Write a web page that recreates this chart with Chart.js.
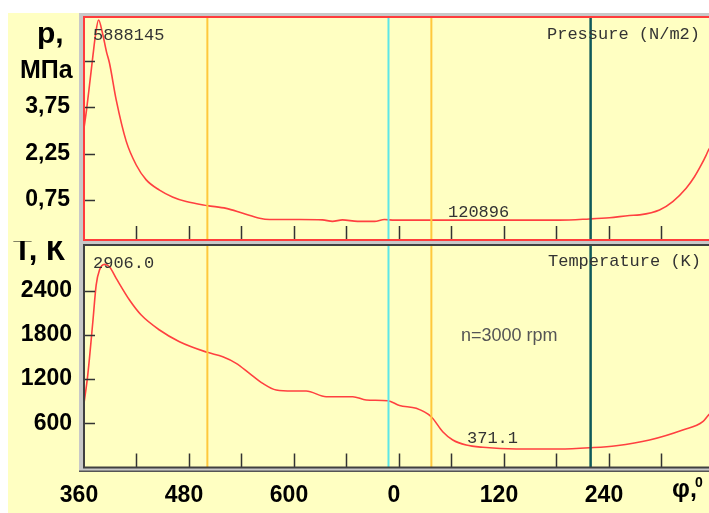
<!DOCTYPE html>
<html>
<head>
<meta charset="utf-8">
<script src="https://cdn.jsdelivr.net/npm/chart.js@4.4.1/dist/chart.umd.min.js"></script>
<style>
  html, body { margin: 0; padding: 0; background: #fff; }
  #page { position: relative; width: 709px; height: 513px; overflow: hidden; }
  #bg { position: absolute; left: 8px; top: 13px; right: 0; bottom: 0; background: #ffffc2; }
  .box { position: absolute; left: 0; width: 709px; }
  #top-box { top: 0; height: 241px; }
  #bottom-box { top: 241px; height: 272px; }
</style>
</head>
<body>
<div id="page">
  <div id="bg"></div>
  <div class="box" id="top-box"><canvas id="pressure-chart"></canvas></div>
  <div class="box" id="bottom-box"><canvas id="temp-chart"></canvas></div>
</div>
<script>
// crank angle in degrees, 360..1080 window (labels wrap at 720 -> 0)
const pressureAngle = [360, 362.9, 366.3, 370.3, 373.1, 376.6, 381.1, 385.7, 389.1, 396.8, 408.2, 419.7, 431.1, 446.3, 461.1, 476.8, 500.8, 522.5, 541.5, 560.6, 572, 606.3, 632.6, 644, 655.4, 672.6, 692, 703.4, 714.9, 777.7, 903.4, 937.7, 960.6, 983.4, 994.9, 1017.7, 1032.9, 1048.2, 1057.7, 1065.4, 1071.1, 1073.7, 1080];
const pressureMPa = [3.07, 3.66, 4.46, 5.43, 6.07, 6.56, 6.14, 5.53, 5.17, 3.98, 2.65, 1.88, 1.40, 1.07, 0.85, 0.70, 0.57, 0.48, 0.32, 0.16, 0.12, 0.12, 0.11, 0.06, 0.11, 0.06, 0.06, 0.12, 0.10, 0.10, 0.10, 0.14, 0.18, 0.25, 0.27, 0.43, 0.70, 1.13, 1.50, 1.88, 2.20, 2.36, 2.62];

const tempAngle = [360, 364.3, 370.1, 373.9, 377.7, 383.4, 389.1, 396.8, 412, 425.4, 446.3, 469.1, 500.8, 518.6, 533.9, 549.1, 564.3, 579.7, 598.6, 613.9, 636.8, 667.2, 682.5, 707.2, 720.6, 739.7, 756.8, 770, 781.5, 796.8, 815.8, 853.9, 903.4, 939.7, 968.2, 1006.3, 1044.3, 1067.2, 1073.7, 1080];
const tempK = [871, 1255, 1978, 2476, 2680, 2757, 2725, 2567, 2273, 2069, 1866, 1707, 1563, 1503, 1414, 1278, 1142, 1052, 1038, 1038, 961, 961, 916, 906, 841, 803, 689, 486, 373, 305, 274, 251, 251, 269, 296, 373, 509, 621, 712, 780];

const xTickAngles = [360, 420, 480, 540, 600, 660, 720, 780, 840, 900, 960, 1020];
const pTicks = [0.75, 2.25, 3.75, 5.25];
const tTicks = [600, 1200, 1800, 2400];

// vertical marker lines (valve events, spark, cursor)
const markerAngles = [501, 708, 757, 939];
const markerKinds = ['valve', 'spark', 'valve', 'cursor'];

const xRange = [360, 1074.3];
const pRange = [-0.54, 6.655];
const tRange = [0, 3020];

const plotYellow = '#ffffc2';
const curveRed = '#ff4040';
const labelFont = '"Liberation Sans", Arial, sans-serif';
const monoFont = '17px "Liberation Mono", monospace';

const markerStyle = {
    valve: { color: '#ffc83c', width: 2 },
    spark: { color: '#5ce6e6', width: 2 },
    cursor: { color: '#0f5a5a', width: 2.5 }
};

const markerDatasets = (yMin, yMax) => markerAngles.map((a, i) => {
    const s = markerStyle[markerKinds[i]];
    return {
        data: [{ x: a, y: yMin }, { x: a, y: yMax }],
        borderColor: s.color,
        borderWidth: s.width,
        pointRadius: 0
    };
});

const panelDecor = {
    id: 'panelDecor',
    beforeDraw(chart, args, opts) {
        const { ctx, chartArea: a } = chart;
        ctx.save();
        ctx.fillStyle = '#c8c8c8';
        ctx.fillRect(opts.frame[0], opts.frame[1], opts.frame[2], opts.frame[3]);
        if (opts.frameEdge !== undefined) {
            ctx.fillStyle = '#555';
            ctx.fillRect(opts.frame[0], opts.frameEdge, opts.frame[2], 1.5);
        }
        ctx.fillStyle = plotYellow;
        ctx.fillRect(a.left, a.top, a.width, a.height);
        ctx.restore();
    },
    afterDraw(chart, args, opts) {
        const { ctx, chartArea: a, scales } = chart;
        ctx.save();
        // short tick marks inside the plot
        ctx.strokeStyle = '#333';
        ctx.lineWidth = 1.5;
        ctx.beginPath();
        xTickAngles.slice(1).forEach(v => {
            const px = Math.round(scales.x.getPixelForValue(v)) + 0.5;
            ctx.moveTo(px, a.bottom);
            ctx.lineTo(px, a.bottom - 14);
        });
        opts.yMarks.forEach(v => {
            const py = Math.round(scales.y.getPixelForValue(v)) + 0.5;
            ctx.moveTo(a.left, py);
            ctx.lineTo(a.left + 11, py);
        });
        ctx.stroke();

        ctx.strokeStyle = opts.border;
        ctx.lineWidth = 2;
        ctx.strokeRect(a.left, a.top, a.width + 5, a.height);

        ctx.textAlign = 'left';
        ctx.textBaseline = 'alphabetic';
        opts.texts.forEach(t => {
            ctx.font = t.font;
            ctx.fillStyle = t.color || '#333';
            ctx.fillText(t.text, t.x, t.y - opts.offsetY);
        });
        ctx.restore();
    }
};

const xScale = (showLabels) => ({
    type: 'linear',
    min: xRange[0],
    max: xRange[1],
    display: showLabels,
    afterBuildTicks: (scale) => { scale.ticks = xTickAngles.map(v => ({ value: v })); },
    afterFit: (scale) => {
        scale.height = showLabels ? 45.5 : 0;
        scale.paddingLeft = 0;
        scale.paddingRight = 0;
    },
    grid: { display: false, drawTicks: false },
    border: { display: false },
    ticks: {
        autoSkip: false,
        maxRotation: 0,
        padding: 14,
        labelOffset: -5,
        color: '#000',
        font: { family: labelFont, size: 23, weight: 'bold' },
        callback: (v) => (v % 120 === 0 ? String(v % 720) : '')
    }
});

const yScale = (range, ticks, pad, fmt) => ({
    type: 'linear',
    min: range[0],
    max: range[1],
    afterBuildTicks: (scale) => { scale.ticks = ticks.map(v => ({ value: v })); },
    afterFit: (scale) => { scale.width = 84; scale.paddingTop = 0; scale.paddingBottom = 0; },
    grid: { display: false, drawTicks: false },
    border: { display: false },
    ticks: {
        padding: pad,
        color: '#000',
        font: { family: labelFont, size: 23, weight: 'bold' },
        callback: fmt
    }
});

const curve = (xs, ys) => ({
    data: xs.map((a, i) => ({ x: a, y: ys[i] })),
    borderColor: curveRed,
    borderWidth: 1.6,
    pointRadius: 0,
    cubicInterpolationMode: 'monotone'
});

const baseOptions = {
    responsive: true,
    maintainAspectRatio: false,
    animation: false,
    devicePixelRatio: 1,
    plugins: { legend: { display: false }, tooltip: { enabled: false } }
};

new Chart(document.getElementById('pressure-chart'), {
    type: 'line',
    data: { datasets: [...markerDatasets(pRange[0], pRange[1]), curve(pressureAngle, pressureMPa)] },
    options: {
        ...baseOptions,
        layout: { padding: { top: 17, bottom: 1, left: 0, right: 0 } },
        scales: {
            x: xScale(false),
            y: yScale(pRange, pTicks, 14, (v) => (v > 5 ? '' : v.toFixed(2).replace('.', ',')))
        },
        plugins: {
            ...baseOptions.plugins,
            panelDecor: {
                frame: [79, 13, 630, 228],
                border: '#ff3c3c',
                yMarks: pTicks,
                offsetY: 0,
                texts: [
                    { text: 'p,', x: 37, y: 43, font: `bold 30px ${labelFont}`, color: '#000' },
                    { text: '\u041C\u041F\u0430', x: 20, y: 78, font: `bold 25px ${labelFont}`, color: '#000' },
                    { text: '5888145', x: 93, y: 40, font: monoFont },
                    { text: 'Pressure (N/m2)', x: 547, y: 39, font: monoFont },
                    { text: '120896', x: 448, y: 217, font: monoFont }
                ]
            }
        }
    },
    plugins: [panelDecor]
});

new Chart(document.getElementById('temp-chart'), {
    type: 'line',
    data: { datasets: [...markerDatasets(tRange[0], tRange[1]), curve(tempAngle, tempK)] },
    options: {
        ...baseOptions,
        layout: { padding: { top: 4, bottom: 0, left: 0, right: 0 } },
        scales: {
            x: xScale(true),
            y: yScale(tRange, tTicks, 12, (v) => String(v))
        },
        plugins: {
            ...baseOptions.plugins,
            panelDecor: {
                frame: [79, 0, 630, 231],
                frameEdge: 229.5,
                border: '#404040',
                yMarks: tTicks,
                offsetY: 241,
                texts: [
                    { text: '\u0422, \u041A', x: 13, y: 260, font: `bold 31px ${labelFont}`, color: '#000' },
                    { text: '2906.0', x: 93, y: 268, font: monoFont },
                    { text: 'Temperature (K)', x: 548, y: 266, font: monoFont },
                    { text: '371.1', x: 467, y: 443, font: monoFont },
                    { text: 'n=3000 rpm', x: 461, y: 341, font: `18px ${labelFont}`, color: '#555' },
                    { text: '\u03C6,', x: 672, y: 497, font: `bold 25px ${labelFont}`, color: '#000' },
                    { text: '0', x: 695, y: 487, font: `bold 14px ${labelFont}`, color: '#000' }
                ]
            }
        }
    },
    plugins: [panelDecor]
});
</script>
</body>
</html>
